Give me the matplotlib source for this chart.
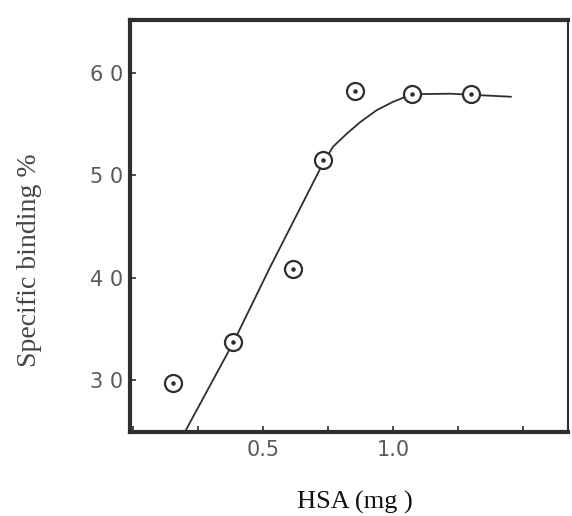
import matplotlib
matplotlib.use("Agg")
import matplotlib.pyplot as plt
from matplotlib.ticker import MultipleLocator

# measured points (HSA mg, specific binding %)
hsa_pts     = [0.154, 0.385, 0.615, 0.731, 0.854, 1.073, 1.300]
binding_pts = [29.7, 33.7, 40.8, 51.5, 58.3, 58.0, 58.0]

# hand-drawn fitted curve
curve_x = [0.204, 0.385, 0.527, 0.723, 0.769, 0.823, 0.873, 0.938, 1.000,
           1.073, 1.219, 1.454]
curve_y = [25.1, 33.6, 41.0, 50.8, 52.8, 54.1, 55.2, 56.4, 57.2,
           57.95, 58.0, 57.7]

y_ticks      = [30, 40, 50, 60]
y_ticklabels = ["3 0", "4 0", "5 0", "6 0"]
x_ticks      = [0.5, 1.0]
x_ticklabels = ["0.5", "1.0"]

INK  = "#2e2e2e"
GREY = "#5a5a5a"
SERIF = ["Liberation Serif", "DejaVu Serif"]

fig = plt.figure(figsize=(5.72, 5.16), dpi=100)
ax = fig.add_axes([0.227, 0.163, 0.766, 0.798])

ax.plot(curve_x, curve_y, color=INK, lw=1.3, solid_capstyle="round")
ax.scatter(hsa_pts, binding_pts, s=150, facecolors="white",
           edgecolors=INK, linewidths=1.6, zorder=3)
ax.scatter(hsa_pts, binding_pts, s=5, color=INK, zorder=4)

ax.set_xlim(-0.012, 1.673)
ax.set_ylim(24.9, 65.2)

ax.xaxis.set_minor_locator(MultipleLocator(0.25))
ax.set_xticks(x_ticks)
ax.set_xticklabels(x_ticklabels)
ax.set_yticks(y_ticks)
ax.set_yticklabels(y_ticklabels)
ax.tick_params(axis="both", which="both", direction="in", length=4,
               width=1.2, color=INK, labelcolor=GREY, labelsize=15)
ax.tick_params(axis="x", pad=6)
ax.tick_params(axis="y", pad=5)

for side, lw in [("left", 3.0), ("bottom", 3.0), ("top", 3.0), ("right", 1.5)]:
    ax.spines[side].set_linewidth(lw)
    ax.spines[side].set_color(INK)

ax.set_ylabel("Specific binding %", family=SERIF, fontsize=20, color="#444444")
ax.yaxis.set_label_coords(-0.20, 0.417)
ax.set_xlabel("HSA (mg )", family=SERIF, fontsize=19, color="#111111")
ax.xaxis.set_label_coords(0.513, -0.143)

fig.savefig("out.png", dpi=100)
